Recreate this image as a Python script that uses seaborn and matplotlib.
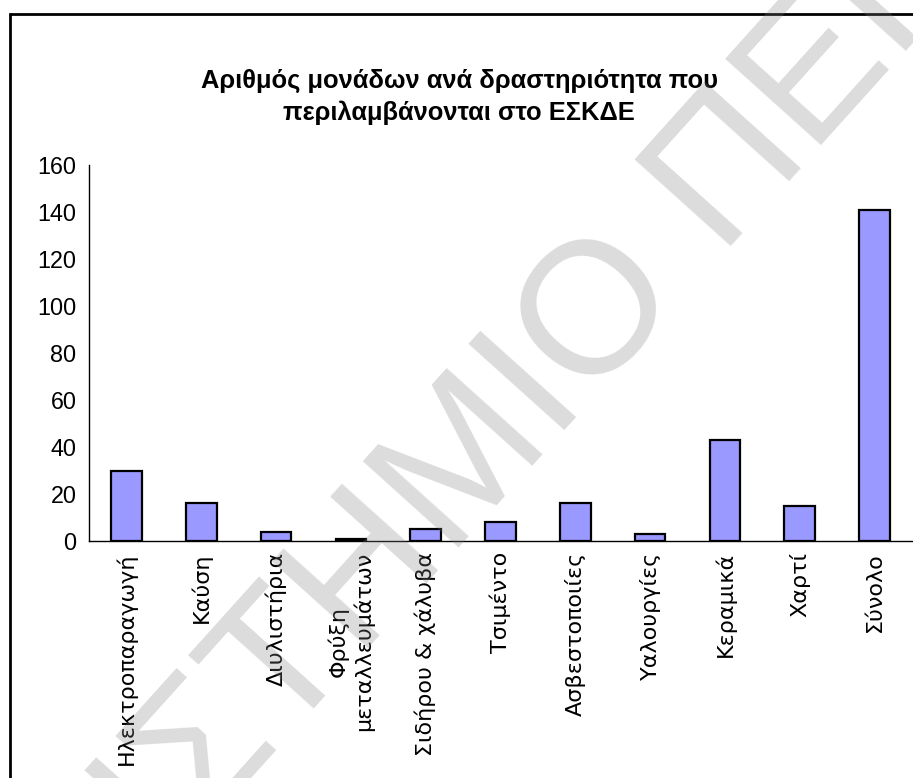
import matplotlib
matplotlib.use("Agg")
import numpy as np
import matplotlib.pyplot as plt
from matplotlib.patches import Rectangle
from matplotlib.ticker import FixedLocator, MultipleLocator
import seaborn as sns

categories = [
    "Ηλεκτροπαραγωγή",
    "Καύση",
    "Διυλιστήρια",
    "Φρύξη\nμεταλλευμάτων",
    "Σιδήρου & χάλυβα",
    "Τσιμέντο",
    "Ασβεστοποιίες",
    "Υαλουργίες",
    "Κεραμικά",
    "Χαρτί",
    "Σύνολο",
]
units = [30, 16, 4, 1, 5, 8, 16, 3, 43, 15, 141]

title = "Αριθμός μονάδων ανά δραστηριότητα που\nπεριλαμβάνονται στο ΕΣΚΔΕ"
watermark = "ΠΑΝΕΠΙΣΤΗΜΙΟ ΠΕΙΡΑΙΩΣ"

sns.set_style("white")
plt.rcParams["font.family"] = ["Liberation Sans", "DejaVu Sans"]
plt.rcParams["text.color"] = "black"
plt.rcParams["xtick.color"] = "black"
plt.rcParams["ytick.color"] = "black"

W, H = 913, 778
fig = plt.figure(figsize=(W / 100, H / 100), dpi=100)
fig.patch.set_facecolor("white")

# outer frame of the excel chart (runs off the right and bottom edge)
fig.patches.append(
    Rectangle((10 / W, -0.1), 1.2, (H - 14) / H + 0.1, transform=fig.transFigure,
              fill=False, edgecolor="black", linewidth=2, zorder=0)
)

ax = fig.add_axes([89 / W, 1 - 541 / H, (912 - 89) / W, (541 - 165) / H])
sns.barplot(x=categories, y=units, color="#9999FF", saturation=1, edgecolor="black",
            linewidth=1.6, width=0.41, ax=ax)

ax.set_xlim(-0.5, len(categories) - 0.5)
ax.set_ylim(0, 160)
ax.yaxis.set_major_locator(MultipleLocator(20))
for side in ["top", "right"]:
    ax.spines[side].set_visible(False)
for side in ["left", "bottom"]:
    ax.spines[side].set_color("black")
    ax.spines[side].set_linewidth(1)

ax.tick_params(axis="y", direction="out", length=6, width=1, color="black",
               labelsize=16.8, labelcolor="black", pad=3)
ax.tick_params(axis="x", which="major", length=0, pad=8, labelcolor="black")
ax.xaxis.set_minor_locator(FixedLocator([i - 0.5 for i in range(len(categories) + 1)]))
ax.tick_params(axis="x", which="minor", direction="out", length=6, width=1, color="black")
for lab in ax.get_xticklabels():
    lab.set_rotation(90)
    lab.set_family("DejaVu Sans")
    lab.set_fontsize(16)
    lab.set_multialignment("center")

fig.text(0.503, 1 - 97 / H, title, ha="center", va="center", fontsize=18.4,
         fontweight="bold", color="black", linespacing=1.4)

# watermark of the scanned page: put the centre of the "Ο" where it sits in the scan
wm_size = 135
wm_angle = np.deg2rad(48)
renderer = fig.canvas.get_renderer()
tmp = fig.text(0, 0, "ΠΑΝΕΠΙΣΤΗΜΙ", fontsize=wm_size, family="Liberation Sans")
w_lead = tmp.get_window_extent(renderer).width
tmp.remove()
tmp = fig.text(0, 0, "Ο", fontsize=wm_size, family="Liberation Sans")
w_o = tmp.get_window_extent(renderer).width
tmp.remove()
o_x, o_y = 587, H - 305
d = w_lead + w_o / 2
half_cap = 0.36 * wm_size * 100 / 72
sx = o_x - d * np.cos(wm_angle) + half_cap * np.sin(wm_angle)
sy = o_y - d * np.sin(wm_angle) - half_cap * np.cos(wm_angle)
fig.text(sx / W, sy / H, watermark, ha="left", va="baseline", rotation=np.rad2deg(wm_angle),
         rotation_mode="anchor", fontsize=wm_size, color="#808080", alpha=0.28,
         family="Liberation Sans", zorder=10)

fig.savefig("out.png", dpi=100)
